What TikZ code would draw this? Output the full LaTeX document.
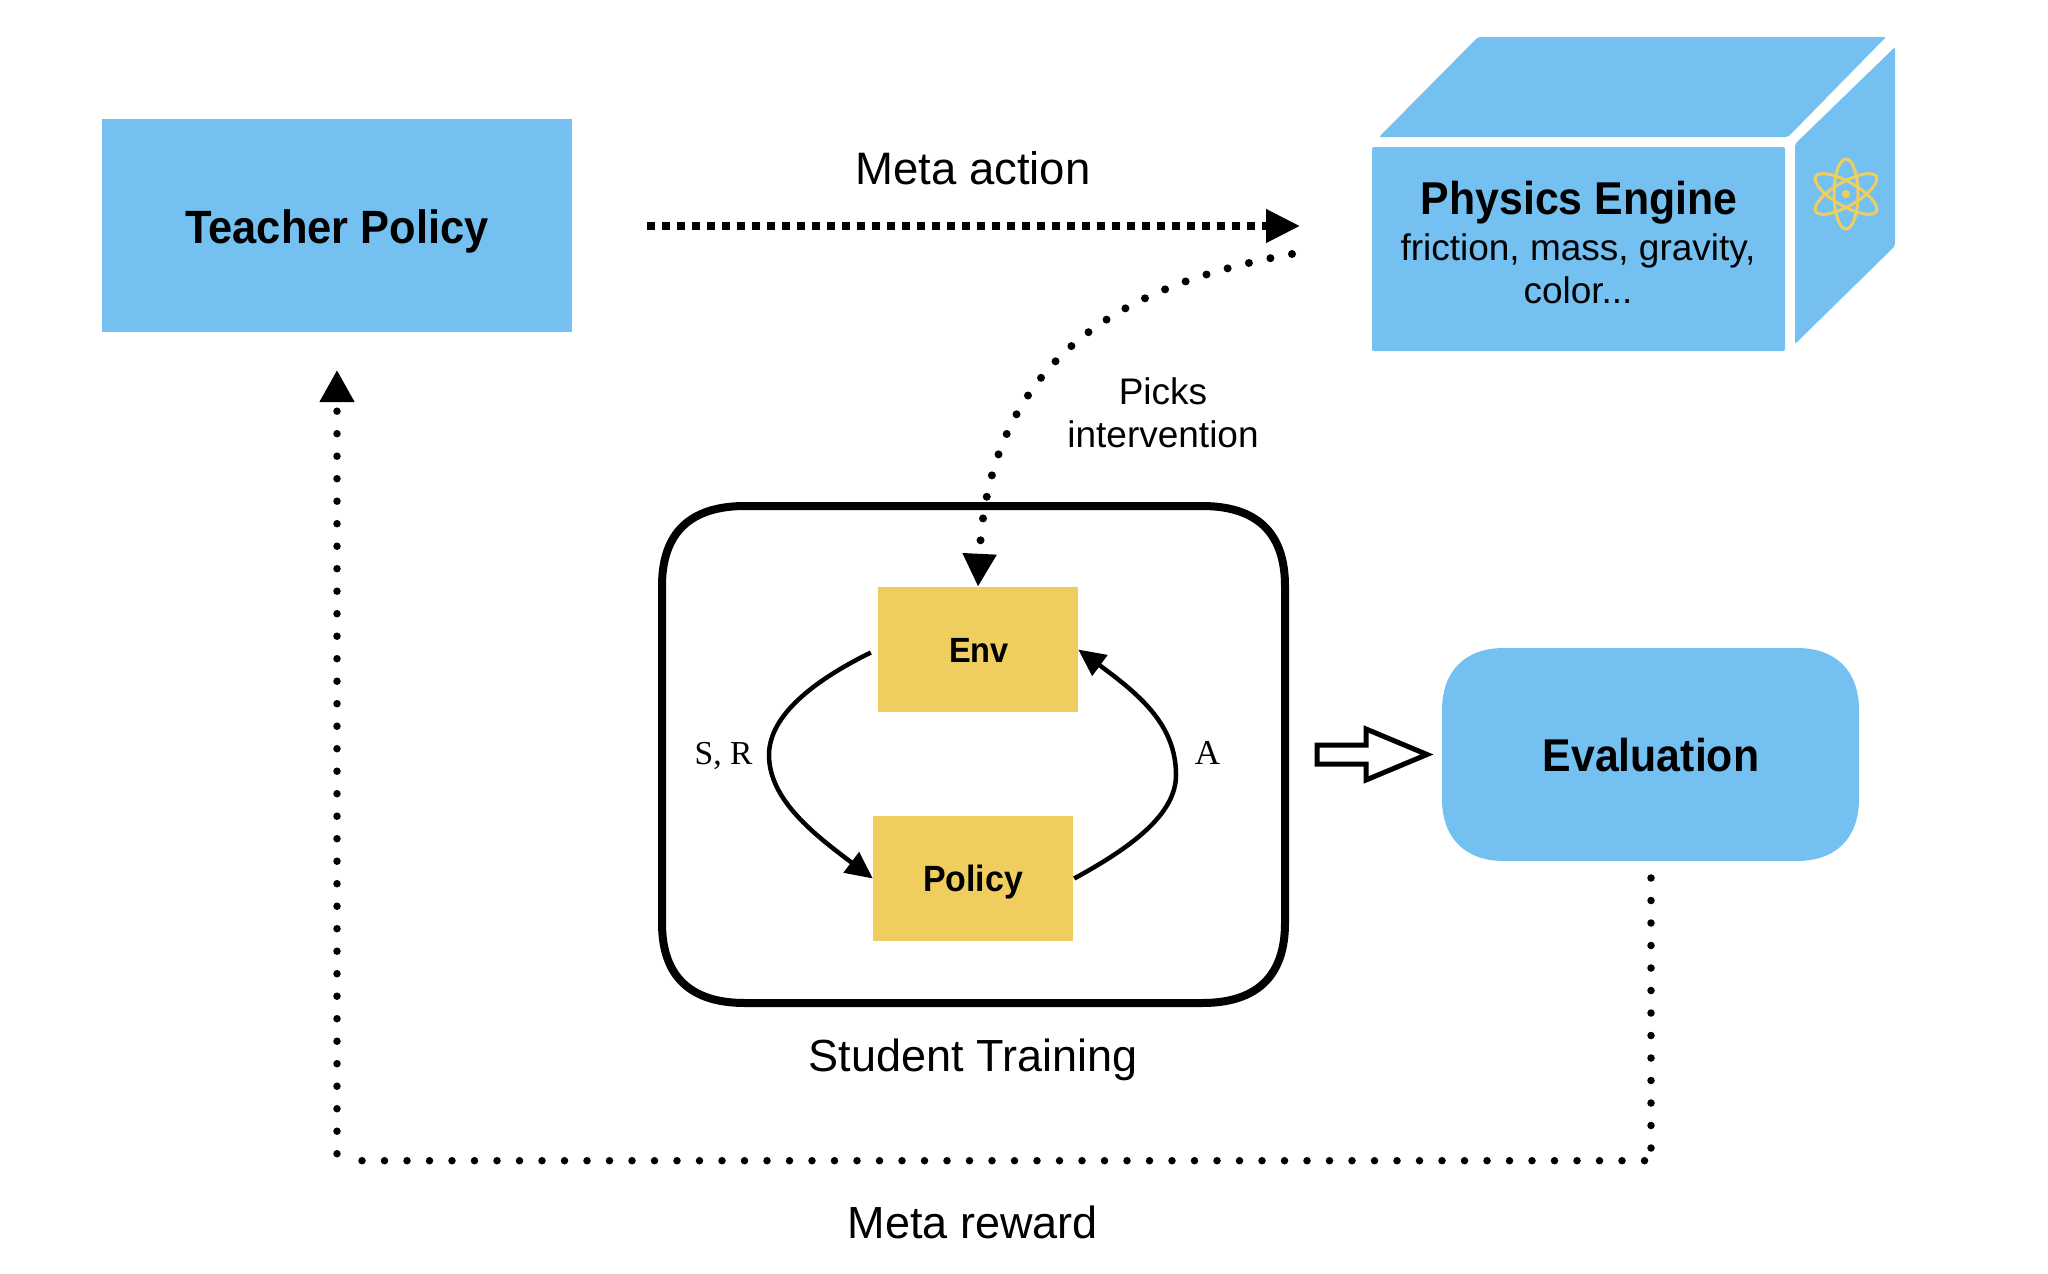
\documentclass[tikz,border=0pt]{standalone}
\usepackage{fontspec}
\setmainfont{Liberation Sans}
\newfontfamily\serifface{Liberation Serif}
\newfontfamily\semib[FakeStretch=0.93]{Liberation Sans}
\usetikzlibrary{arrows.meta}
\definecolor{skyfill}{RGB}{116,193,241}
\definecolor{sandfill}{RGB}{239,206,95}
\newcommand{\fs}[1]{\fontsize{#1}{#1}\selectfont}
\tikzset{
  x=1pt,y=-1pt,
  bluebox/.style={fill=skyfill,draw=none,inner sep=0pt},
  sandbox/.style={fill=sandfill,draw=none,inner sep=0pt,minimum width=200pt,minimum height=125pt},
  label/.style={inner sep=0pt,anchor=base,align=center},
  squaredots/.style={line width=7.5pt,dash pattern=on 7.5pt off 7.5pt},
  rounddots/.style={line width=8pt,line cap=round,dash pattern=on 0pt off 22pt},
  rewdots/.style={line width=7.5pt,line cap=round,dash pattern=on 0pt off 22.5pt},
  bigtip/.style={-{Triangle[length=34pt,width=32pt]}},
  loopline/.style={line width=4.5pt,-{Triangle[length=27pt,width=25pt]}},
}
\begin{document}
\begin{tikzpicture}
\useasboundingbox (0,0) rectangle (2048,1274);
% Teacher
\node[bluebox,minimum width=470pt,minimum height=213pt] (teacher) at (337,225.5) {};
\node[label,font=\fs{46.7}\semib\bfseries] (teachertext) at (337,243) {Teacher Policy};
% Physics engine box
\fill[skyfill,rounded corners=2pt] (1372,147) rectangle (1785,351);
\fill[skyfill,rounded corners=2pt] (1379,137) -- (1788,137) -- (1886,37) -- (1478,37) -- cycle;
\fill[skyfill,rounded corners=2pt] (1795,144) -- (1895,47) -- (1895,246) -- (1795,344) -- cycle;
\node[label,font=\fs{46}\semib\bfseries] (phys) at (1579,214) {Physics Engine};
\node[label,font=\fs{37}] (phys2) at (1578,260) {friction, mass, gravity,};
\node[label,font=\fs{37}] (phys3) at (1578,303) {color...};
% atom
\coordinate (atom) at (1846,194);
\foreach \a in {0,60,-60}
  \draw[sandfill,line width=3pt,rotate around={\a:(atom)}] (atom) ellipse [x radius=12pt,y radius=35pt];
\fill[sandfill] (atom) circle [radius=4pt];
% Student
\draw[line width=8pt]
  (745,506) -- (1202,506) .. controls (1256,506) and (1285,532) .. (1285,586)
  -- (1285,923) .. controls (1285,977) and (1256,1003) .. (1202,1003)
  -- (745,1003) .. controls (691,1003) and (662,977) .. (662,923)
  -- (662,586) .. controls (662,532) and (691,506) .. (745,506) -- cycle;
\node[sandbox] (env) at (978,649.5) {};
\node[sandbox] (policy) at (973,878.5) {};
\node[label,font=\fs{35}\semib\bfseries] (envtext) at (979,662) {Env};
\node[label,font=\fs{36.5}\semib\bfseries] (policytext) at (973,891) {Policy};
\node[label,font=\fs{33.5}\serifface] (srtext) at (723.5,764) {S, R};
\node[label,font=\fs{35}\serifface] (atext) at (1207.5,764) {A};
\draw[loopline] ([xshift=-7pt,yshift=-3pt]env.west) .. controls (815,680) and (769,715) .. (769,755) .. controls (769,800) and (815,835) .. (policy.west);
\draw[loopline] ([xshift=1pt]policy.east) .. controls (1130,848) and (1176,815) .. (1176,775) .. controls (1176,725) and (1140,695) .. (env.east);
\node[label,font=\fs{45}] (student) at (973,1071) {Student Training};
% Evaluation
\fill[skyfill] (1504,648) -- (1797,648) .. controls (1836,648) and (1859,671) .. (1859,710)
  -- (1859,799) .. controls (1859,838) and (1836,861) .. (1797,861)
  -- (1504,861) .. controls (1465,861) and (1442,838) .. (1442,799)
  -- (1442,710) .. controls (1442,671) and (1465,648) .. (1504,648) -- cycle;
\node[label,font=\fs{46}\semib\bfseries] (evaltext) at (1651,771) {Evaluation};
% hollow arrow
\draw[line width=5pt,miter limit=8,fill=white]
  (1317,745) -- (1366,745) -- (1366,729) -- (1427,754.5) -- (1366,780) -- (1366,764) -- (1317,764) -- cycle;
% Meta action
\coordinate (actstart) at (647,226);
\coordinate (actend) at (1300,226);
\draw[squaredots,bigtip] (actstart) -- (actend);
\node[label,font=\fs{45.5}] (metaaction) at (973,184) {Meta action};
% Picks
\coordinate (pickstart) at (1292,254);
\draw[rounddots,-{Triangle[length=33pt,width=32pt]}] (pickstart) .. controls (1150,280) and (990,340) .. (env.north);
\node[label,font=\fs{37}] (picks1) at (1163,404) {Picks};
\node[label,font=\fs{37}] (picks2) at (1163,447) {intervention};
% Meta reward
\coordinate (rewstart) at (1651,878);
\coordinate (rewa) at (1651,1150);
\coordinate (rewc) at (1644.5,1160.7);
\coordinate (rewd) at (360.5,1160.7);
\coordinate (rewe) at (337,1153.7);
\coordinate (rewend) at (337,370);
\draw[rewdots] (rewstart) -- (rewa);
\draw[rewdots] (rewc) -- (rewd);
\draw[rewdots,-{Triangle[length=32pt,width=33pt]}] (rewe) -- (rewend);
\node[label,font=\fs{45}] (metareward) at (973,1238) {Meta reward};
\end{tikzpicture}
\end{document}
